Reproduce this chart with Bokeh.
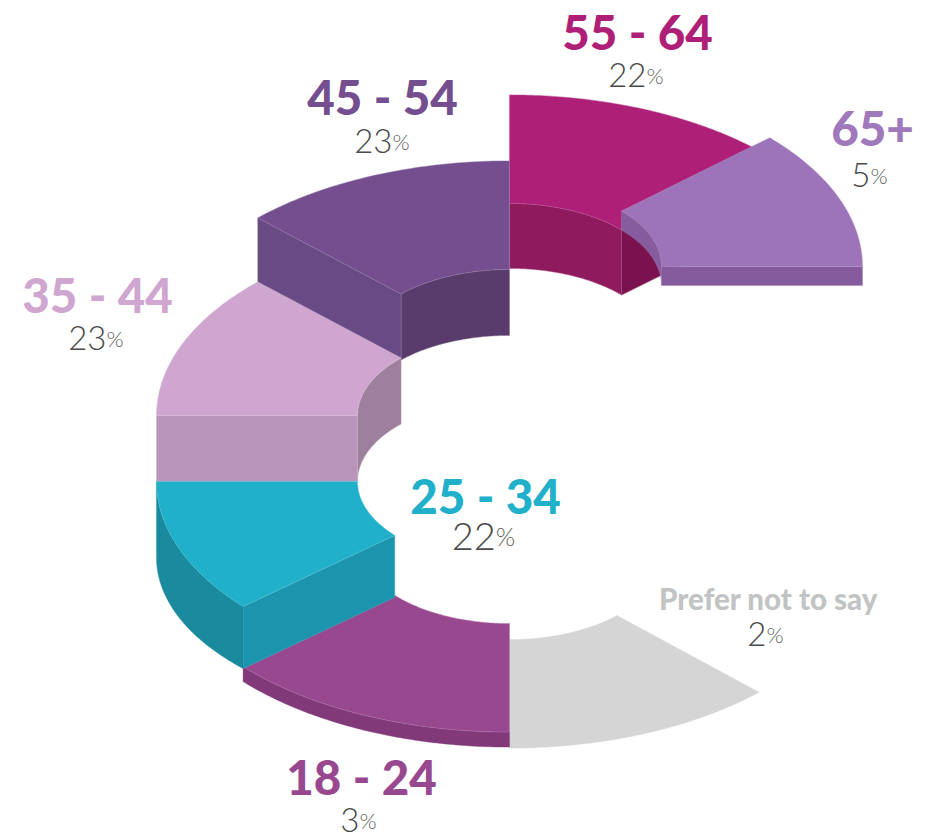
import numpy as np
from bokeh.plotting import figure
from bokeh.models import Range1d
from bokeh.core.properties import value
from bokeh.embed import file_html
from bokeh.resources import INLINE

# --- chart data -----------------------------------------------------------
labels = ["65+", "55 - 64", "45 - 54", "35 - 44", "25 - 34", "18 - 24", "Prefer not to say"]
shares = [5, 22, 23, 23, 22, 3, 2]

# --- drawing layout -------------------------------------------------------
sector_edges = [0, 42.5, 90, 135.5, 180, 221, 270, 315]    # degrees
top_levels = [266, 285, 351, 415, 481, 541, 557]           # ellipse centre of each top face
depths = [19, 65, 66, 66, 62, 15, 0]                       # extrusion of each step
wall_start_depths = [19, 65, 66, 66, 76, 15, 0]            # extrusion where an outer wall begins
top_colors = ["#9d74b9", "#ae1f78", "#744e8f", "#cfa6d0", "#20b0ca", "#98488f", "#d5d5d5"]
inner_colors = ["#875c9f", "#8f1a5e", "#593b6c", "#9e809e", None, None, None]
end_colors = ["#855b9d", "#7a1250", "#694a84", "#b996b9", "#1b95ae", None, None]
outer_colors = [None, None, None, None, "#1a8a9e", "#82397a", None]
label_colors = ["#a078bc", "#ae1f78", "#744e8f", "#cfa6d0", "#20b0ca", "#98488f", "#c2c4c4"]
label_centres = [872, 637, 382, 97, 485, 361, 768]
label_baselines = [147, 50, 115, 313, 514, 795, 610]
share_centres = [872, 637, 383, 97, 485, 361, 768]
share_baselines = [188, 88, 154, 351, 551, 833, 647]
label_sizes = [47.5, 47.5, 47.5, 47.5, 47.5, 47.5, 29.5]
share_sizes = [33, 33, 33, 33, 38, 33, 33]
CX, RO, RI, SQUASH = 509, 353, 152, 0.54
FONT = "Lato Black"
LIGHT = "Lato Light"
EDGE = "#ffffff"
BASE_SHIFT = 0.4   # offset of the renderer's alphabetic baseline, in ems

p = figure(width=937, height=840, output_backend="svg", toolbar_location=None,
           x_range=Range1d(0, 937), y_range=Range1d(840, 0),
           min_border=0, outline_line_color=None, background_fill_color="white")
p.axis.visible = False
p.grid.visible = False


def arc(radius, a0, a1, level, n=80):
    t = np.radians(np.linspace(a0, a1, n))
    return CX + radius * np.cos(t), level - radius * SQUASH * np.sin(t)


def face(xs, ys, color, edge=0.18):
    p.patch(list(xs), list(ys), fill_color=color, line_color=color, line_width=0.4)
    if edge:
        p.line(list(xs) + [xs[0]], list(ys) + [ys[0]], line_color=EDGE, line_alpha=edge, line_width=0.7)


def draw_step(i):
    a0, a1 = sector_edges[i], sector_edges[i + 1]
    top, bot = top_levels[i], top_levels[i] + depths[i]
    if inner_colors[i]:
        xa, ya = arc(RI, a0, a1, top)
        xb, yb = arc(RI, a1, a0, bot)
        face(np.r_[xa, xb], np.r_[ya, yb], inner_colors[i])
    if end_colors[i]:
        a = a1 if i >= 2 else a0
        xi, yi = arc(RI, a, a, top, 1)
        xo, yo = arc(RO, a, a, top, 1)
        face([xi[0], xo[0], xo[0], xi[0]], [yi[0], yo[0], yo[0] + depths[i], yi[0] + depths[i]], end_colors[i])
    if outer_colors[i]:
        xa, ya = arc(RO, a0, a1, top)
        xb, yb = arc(RO, a1, a0, top)
        yb = yb + np.linspace(depths[i], wall_start_depths[i], len(yb))
        face(np.r_[xa, xb], np.r_[ya, yb], outer_colors[i], 0)
    xa, ya = arc(RO, a0, a1, top)
    xb, yb = arc(RI, a1, a0, top)
    face(np.r_[xa, xb], np.r_[ya, yb], top_colors[i], 0.18 if depths[i] else 0)


# paint from the back of the spiral to the front
for i in [1, 0, 2, 3, 6, 5, 4]:
    draw_step(i)

for i, name in enumerate(labels):
    p.text([label_centres[i]], [label_baselines[i] - BASE_SHIFT * label_sizes[i]], text=[name],
           text_font=value(FONT), text_font_size=f"{label_sizes[i]}px",
           text_color=label_colors[i], text_align="center", text_baseline="alphabetic")
    digits = str(shares[i])
    size = share_sizes[i]
    split = share_centres[i] + (9 if len(digits) == 2 else -2) * size / 33
    y = share_baselines[i] - BASE_SHIFT * size
    p.text([split], [y], text=[digits], text_font=value(LIGHT),
           text_font_size=f"{size}px", text_color="#4a4a4a",
           text_align="right", text_baseline="alphabetic")
    p.text([split], [y], text=["%"], text_font=value(LIGHT),
           text_font_size=f"{int(size * 0.68)}px", text_color="#5f5f5f",
           text_align="left", text_baseline="alphabetic")

open("out.html", "w").write(file_html(p, INLINE))
